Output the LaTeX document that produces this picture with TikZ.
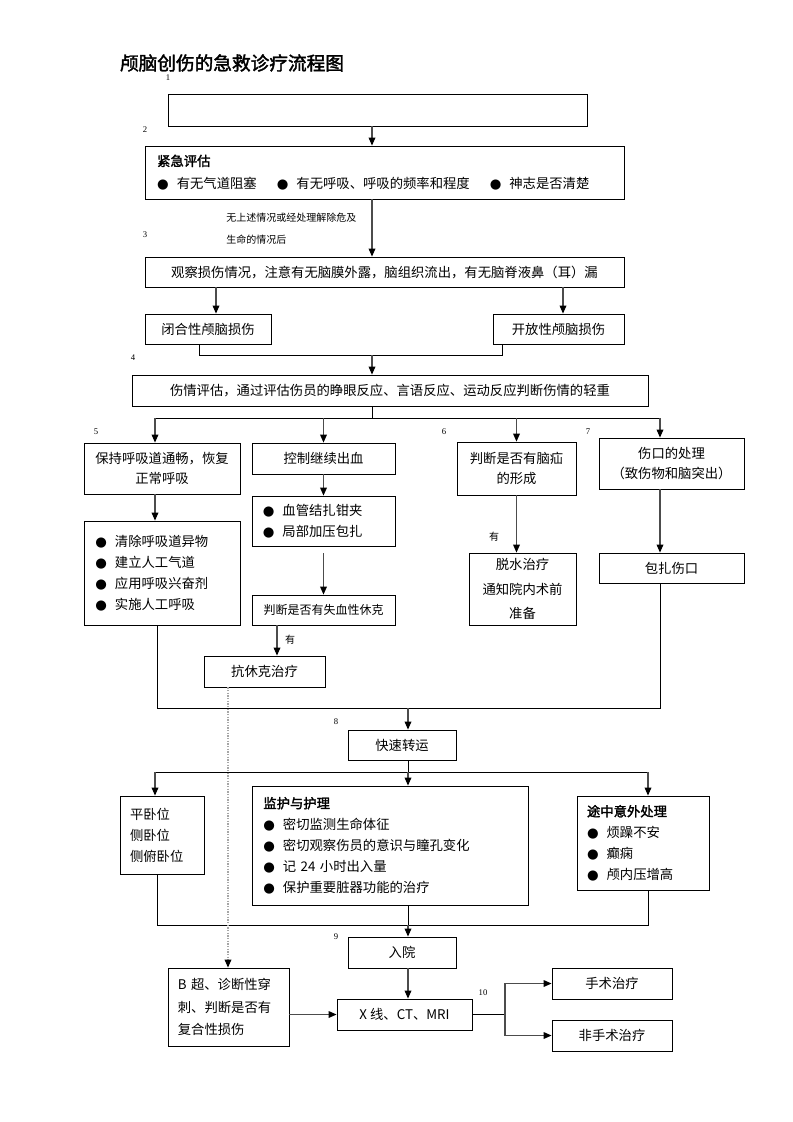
\documentclass[tikz,border=0pt]{standalone}
\usepackage{fontspec}
\setmainfont{Noto Sans CJK SC}[AutoFakeBold=2]
\newfontfamily\symfont{DejaVu Sans}
\newfontfamily\numfont{Liberation Serif}
\usetikzlibrary{arrows.meta}
\def\pbox[#1](#2,#3)(#4,#5)#6{\node[box,minimum width={(#4-#2)*0.75pt},minimum height={(#5-#3)*0.75pt},#1] (#6) at ({(#2+#4)/2},{(#3+#5)/2})}
\newcommand{\bul}{{\symfont\fontsize{10}{10}\selectfont ●}\hspace{6pt}}
\tikzset{
  box/.style={draw, line width=0.6pt, inner sep=0pt, align=center, font=\fontsize{10}{15}\selectfont},
  arr/.style={draw=black!70, line width=0.9pt, -{Triangle[length=6pt,width=5pt,color=black]}},
  link/.style={draw=black, line width=0.6pt},
  faint/.style={draw=black!35, line width=1pt, densely dotted, -{Triangle[length=6pt,width=5pt,color=black]}},
  tag/.style={font=\numfont\fontsize{6.5}{6.5}\selectfont, inner sep=0pt},
  note/.style={font=\fontsize{7.5}{16.5}\selectfont, inner sep=0pt, align=left}
}

\begin{document}
\begin{tikzpicture}[x=0.75pt, y=-0.75pt]
			%%%%% START %%%%%
			\useasboundingbox (0,0) rectangle (793,1122);
			
			\node[inner sep=0pt] (title) at (232,63) {\bfseries\fontsize{14}{14}\selectfont 颅脑创伤的急救诊疗流程图};
			
			\node[tag] (n1) at (168,78) {1};
			\node[tag] (n2) at (145,130) {2};
			\node[tag] (n3) at (145,235) {3};
			\node[tag] (n4) at (133,358) {4};
			\node[tag] (n5) at (96,432) {5};
			\node[tag] (n6) at (444,432) {6};
			\node[tag] (n7) at (588,432) {7};
			\node[tag] (n8) at (336,722) {8};
			\node[tag] (n9) at (336,937) {9};
			\node[tag] (n10) at (483,993) {10};
			
			% top part
			\pbox[](168,94)(587,126){top} {};
			\pbox[align=left,text width=341pt,font=\fontsize{10}{17}\selectfont](145,146)(624,199){urgent}
			{{\bfseries 紧急评估}\\\bul 有无气道阻塞\hspace{15pt}\bul 有无呼吸、呼吸的频率和程度\hspace{15pt}\bul 神志是否清楚};
			\pbox[](145,257)(624,287){observe} {观察损伤情况，注意有无脑膜外露，脑组织流出，有无脑脊液鼻（耳）漏};
			\pbox[](145,314)(271,344){closed} {闭合性颅脑损伤};
			\pbox[](493,314)(624,344){open} {开放性颅脑损伤};
			\pbox[](132,375)(648,406){assess} {伤情评估，通过评估伤员的睁眼反应、言语反应、运动反应判断伤情的轻重};
			
			% four branches
			\pbox[](84,443)(240,494){airway} {保持呼吸道通畅，恢复\\正常呼吸};
			\pbox[align=left,text width=100pt,font=\fontsize{10}{15.75}\selectfont](84,521)(240,625){clear}
			{\bul 清除呼吸道异物\\\bul 建立人工气道\\\bul 应用呼吸兴奋剂\\\bul 实施人工呼吸\\[4pt]};
			\pbox[](252,443)(395,474){ctrl} {控制继续出血};
			\pbox[align=left,text width=91pt,font=\fontsize{10}{15.75}\selectfont](252,496)(395,546){bleed}
			{\bul 血管结扎钳夹\\\bul 局部加压包扎};
			\pbox[font=\fontsize{9}{9}\selectfont](252,595)(395,625){shock} {判断是否有失血性休克};
			\pbox[](204,656)(325,687){antishock} {抗休克治疗};
			\pbox[](457,442)(576,495){brain} {判断是否有脑疝\\的形成};
			\pbox[font=\fontsize{10}{18.5}\selectfont](469,553)(576,625){dehyd} {脱水治疗\\通知院内术前\\准备};
			\pbox[](599,438)(744,489){wound} {伤口的处理\\（致伤物和脑突出）};
			\pbox[](599,553)(744,583){dress} {包扎伤口};
			
			% transport
			\pbox[](348,730)(456,760){transfer} {快速转运};
			\pbox[align=left,text width=48pt,font=\fontsize{10}{15.75}\selectfont](120,796)(204,874){flat}
			{平卧位\\侧卧位\\侧俯卧位};
			\pbox[align=left,text width=190pt,font=\fontsize{10}{15.75}\selectfont](252,786)(528,905){monitor}
			{{\bfseries 监护与护理}\\\bul 密切监测生命体征\\\bul 密切观察伤员的意识与瞳孔变化\\\bul 记 24 小时出入量\\\bul 保护重要脏器功能的治疗\\[3pt]};
			\pbox[align=left,text width=84pt,font=\fontsize{10}{15.75}\selectfont](577,796)(709,890){accident}
			{{\bfseries 途中意外处理}\\\bul 烦躁不安\\\bul 癫痫\\\bul 颅内压增高};
			
			% hospital
			\pbox[](348,937)(456,968){admit} {入院};
			\pbox[](337,999)(472,1030){xray} {X 线、CT、MRI};
			\pbox[align=left,text width=76pt,font=\fontsize{10}{17}\selectfont](168,968)(289,1046){bscan}
			{B 超、诊断性穿\\刺、判断是否有\\复合性损伤};
			\pbox[](552,968)(672,999){surg} {手术治疗};
			\pbox[](552,1020)(672,1051){nonsurg} {非手术治疗};
			
			% columns and joints
			\coordinate (t1) at (372,0);
			\coordinate (t2) at (408,0);
			\coordinate (k1) at (216,0);
			\coordinate (k2) at (563,0);
			\coordinate (j1) at (199,355);
			\coordinate (j2) at (502,355);
			\coordinate (s1) at (155,418);
			\coordinate (s2) at (660,418);
			\coordinate (v1) at (277,0);
			\coordinate (m1) at (157,708);
			\coordinate (m2) at (660,708);
			\coordinate (r1) at (155,772);
			\coordinate (r2) at (648,772);
			\coordinate (q1) at (157,925);
			\coordinate (q2) at (648,925);
			\coordinate (d1) at (228,0);
			\coordinate (f1) at (505,0);
			
			\draw[arr] (t1 |- top.south) -- (t1 |- urgent.north);
			\draw[arr] (t1 |- urgent.south) -- (t1 |- observe.north);
			\node[note, anchor=west] (cond) at (226,229) {无上述情况或经处理解除危及\\生命的情况后};
			\draw[arr] (k1 |- observe.south) -- (k1 |- closed.north);
			\draw[arr] (k2 |- observe.south) -- (k2 |- open.north);
			\draw[link] (j1 |- closed.south) -- (j1) -- (j2) -- (j2 |- open.south);
			\draw[arr] (t1 |- j1) -- (t1 |- assess.north);
			
			\draw[link] (t1 |- assess.south) -- (t1 |- s1);
			\draw[link] (s1) -- (s2);
			\draw[arr] (s1) -- (s1 |- airway.north);
			\draw[arr] (ctrl.north |- s1) -- (ctrl.north);
			\draw[arr] (brain.north |- s1) -- (brain.north);
			\draw[arr] (s2) -- (s2 |- wound.north);
			
			\draw[arr] (s1 |- airway.south) -- (s1 |- clear.north);
			\draw[arr] (ctrl.south) -- (bleed.north);
			\draw[arr, shorten <=5pt] (bleed.south) -- (shock.north);
			\draw[arr] (v1 |- shock.south) -- (v1 |- antishock.north);
			\node[note] (yes1) at (290,640) {有};
			\draw[arr] (brain.south) -- (brain.south |- dehyd.north);
			\node[note] (yes2) at (494,537) {有};
			\draw[arr] (s2 |- wound.south) -- (s2 |- dress.north);
			
			\draw[link] (m1 |- clear.south) -- (m1) -- (m2) -- (m2 |- dress.south);
			\draw[arr] (t2 |- m1) -- (t2 |- transfer.north);
			
			\draw[link] (t2 |- transfer.south) -- (t2 |- r1);
			\draw[link] (r1) -- (r2);
			\draw[arr] (r1) -- (r1 |- flat.north);
			\draw[arr] (t2 |- r1) -- (t2 |- monitor.north);
			\draw[arr] (r2) -- (r2 |- accident.north);
			
			\draw[link] (q1 |- flat.south) -- (q1) -- (q2) -- (q2 |- accident.south);
			\draw[link] (t2 |- monitor.south) -- (t2 |- q1);
			\draw[arr] (t2 |- q1) -- (t2 |- admit.north);
			\draw[arr] (t2 |- admit.south) -- (t2 |- xray.north);
			
			\draw[faint] (d1 |- antishock.south) -- (d1 |- bscan.north);
			\draw[arr] (xray.west -| bscan.east) -- (xray.west);
			\draw[link] (xray.east) -- (f1 |- xray.east);
			\draw[arr] (f1 |- xray.east) |- (surg.west);
			\draw[arr] (f1 |- xray.east) |- (nonsurg.west);
			
			%%%%% END %%%%%
\end{tikzpicture}
\end{document}
